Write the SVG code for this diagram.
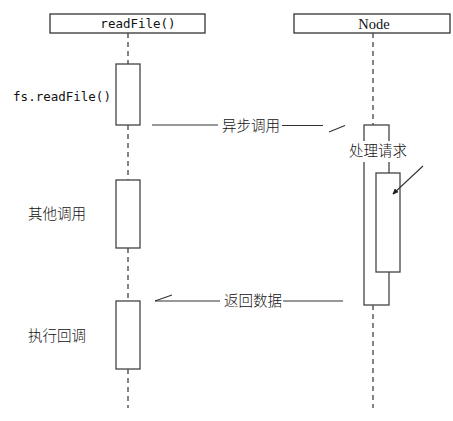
<svg xmlns="http://www.w3.org/2000/svg" width="453" height="421" viewBox="0 0 453 421">
<style>
.box{fill:#fff;stroke:#333;stroke-width:1.3}
.act{fill:#fff;stroke:#444;stroke-width:1.3}
.life{stroke:#333;stroke-width:1.2;stroke-dasharray:5,4;fill:none}
.ln{stroke:#333;stroke-width:1.1;fill:none}
.mono{font-family:"DejaVu Sans Mono","Liberation Mono",monospace;font-size:12.5px;fill:#111}
.serif{font-family:"Liberation Serif","DejaVu Serif",serif;font-size:14.5px;fill:#111}
.cjk{font-family:"Noto Sans CJK SC","Noto Sans",sans-serif;font-size:14.5px;font-weight:300;fill:#111}
</style>
<rect width="453" height="421" fill="#fff"/>
<g id="lifelines">
<line class="life" x1="128" y1="33" x2="128" y2="64"/>
<line class="life" x1="128" y1="125" x2="128" y2="180"/>
<line class="life" x1="128" y1="248" x2="128" y2="301"/>
<line class="life" x1="128" y1="369" x2="128" y2="408"/>
<line class="life" x1="373" y1="33" x2="373" y2="125"/>
<line class="life" x1="373" y1="305" x2="373" y2="408"/>
</g>
<g id="readFile">
<rect class="box" x="50" y="14" width="155" height="19"/>
<text class="mono" x="138" y="28" text-anchor="middle">readFile()</text>
</g>
<g id="node">
<rect class="box" x="294" y="14" width="156" height="19"/>
<text class="serif" x="374" y="29" text-anchor="middle">Node</text>
</g>
<g id="act1">
<rect class="act" x="116" y="64" width="24" height="61"/>
<text class="mono" x="62" y="101" text-anchor="middle">fs.readFile()</text>
</g>
<g id="act2">
<rect class="act" x="116" y="180" width="24" height="68"/>
<text class="cjk" x="57" y="219" text-anchor="middle">其他调用</text>
</g>
<g id="act3">
<rect class="act" x="116" y="301" width="24" height="68"/>
<text class="cjk" x="57" y="341" text-anchor="middle">执行回调</text>
</g>
<g id="nodeAct">
<rect class="act" x="364" y="125" width="25" height="180"/>
<rect x="346" y="141" width="64" height="21" fill="#fff"/>
<text class="cjk" x="378" y="156" text-anchor="middle">处理请求</text>
<rect class="act" x="376" y="173" width="24" height="99"/>
</g>
<g id="connectors">
<line class="ln" x1="152" y1="125" x2="218" y2="125"/>
<text class="cjk" x="251" y="131" text-anchor="middle">异步调用</text>
<line class="ln" x1="282" y1="125.5" x2="323" y2="125.5"/>
<line class="ln" x1="329" y1="132" x2="345" y2="125.5"/>
<line class="ln" x1="155" y1="301" x2="220" y2="301"/>
<line class="ln" x1="155" y1="301" x2="172" y2="295"/>
<text class="cjk" x="253" y="306" text-anchor="middle">返回数据</text>
<line class="ln" x1="283" y1="301" x2="343" y2="301"/>
<line class="ln" x1="423" y1="166" x2="393" y2="194"/>
<path d="M393 194 L395 189 L398 192 Z" fill="#222" stroke="#222" stroke-width="0.8"/>
</g>
</svg>
